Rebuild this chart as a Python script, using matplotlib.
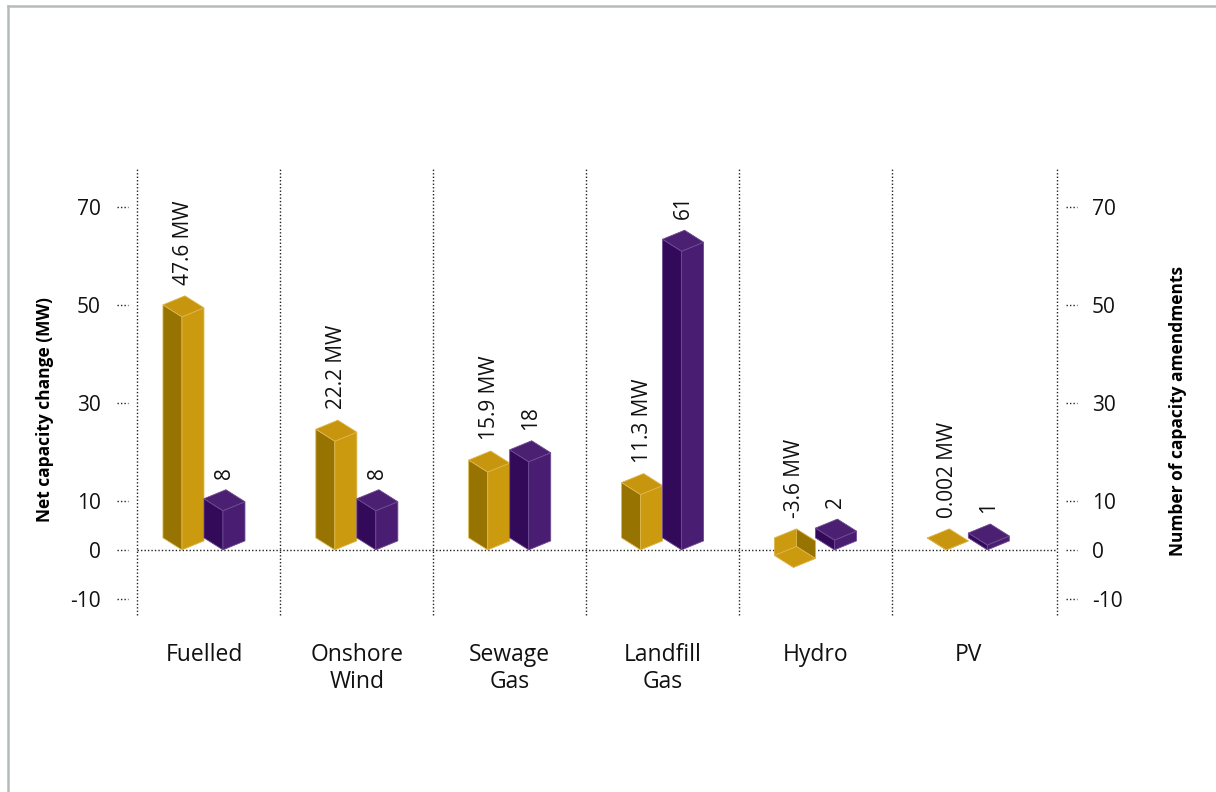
import matplotlib.pyplot as plt
from matplotlib.patches import Polygon
from matplotlib.lines import Line2D

plt.rcParams['font.family'] = ['Open Sans', 'DejaVu Sans']

categories = ["Fuelled", "Onshore\nWind", "Sewage\nGas", "Landfill\nGas", "Hydro", "PV"]
capacity_mw = [47.6, 22.2, 15.9, 11.3, -3.6, 0.002]
amendments = [8, 8, 18, 61, 2, 1]
tick_values = [-10, 0, 10, 30, 50, 70]

W, H = 1216, 792
fig = plt.figure(figsize=(W / 100, H / 100), dpi=100)

# axes box in pixels
ax_l, ax_r, ax_t, ax_b = 137, 1057, 168, 615
ax = fig.add_axes([ax_l / W, 1 - ax_b / H, (ax_r - ax_l) / W, (ax_b - ax_t) / H])
xlim = (-0.438, 5.58)
ylim = (-13.3, 78)
ax.set_xlim(*xlim)
ax.set_ylim(*ylim)
for s in ax.spines.values():
    s.set_visible(False)

# pixel -> data conversion for the fake 3d depth
px_x = (xlim[1] - xlim[0]) / (ax_r - ax_l)
px_y = (ylim[1] - ylim[0]) / (ax_b - ax_t)
L = (-19 * px_x, 12 * px_y)
R = (22 * px_x, 9 * px_y)

gold = dict(left='#977301', right='#CC9A0F', top='#C8960E', edge='#DDB54A')
purple = dict(left='#33095A', right='#491D71', top='#4B2073', edge='#6E4A92')


def add(p, q):
    return (p[0] + q[0], p[1] + q[1])


def box(axis, xf, v, c):
    kw = dict(lw=0.6, zorder=5)
    f0 = (xf, 0)
    f1 = (xf, v)
    if v >= 0:
        faces = [
            ([f0, f1, add(f1, L), add(f0, L)], c['left']),
            ([f0, f1, add(f1, R), add(f0, R)], c['right']),
            ([f1, add(f1, L), add(add(f1, L), R), add(f1, R)], c['top']),
        ]
    else:
        # negative bar: looking down into the box
        b0 = add(add(f0, L), R)
        b1 = add(add(f1, L), R)
        faces = [
            ([add(f1, L), b1, b0, add(f0, L)], c['right']),
            ([b1, add(f1, R), add(f0, R), b0], c['left']),
            ([f1, add(f1, L), b1, add(f1, R)], c['right']),
        ]
    for pts, col in faces:
        axis.add_patch(Polygon(pts, closed=True, facecolor=col, edgecolor=c['edge'], **kw))


dot = (0, (1, 1.5))
line_kw = dict(color='#222222', lw=1.0, linestyle=dot, clip_on=False, zorder=1)

# dotted frame and category dividers
for x in [xlim[0]] + [i + 0.5 for i in range(5)] + [xlim[1]]:
    ax.plot([x, x], ylim, **line_kw)
ax.plot(xlim, [0, 0], **line_kw)

# dotted tick marks on both sides
ytr = ax.get_yaxis_transform()
for t in tick_values:
    ax.plot([-20 / 920, -9 / 920], [t, t], transform=ytr, **line_kw)
    ax.plot([1 + 9 / 920, 1 + 20 / 920], [t, t], transform=ytr, **line_kw)

ax2 = ax.twinx()
ax2.set_ylim(*ylim)
for s in ax2.spines.values():
    s.set_visible(False)

for i, (mw, n) in enumerate(zip(capacity_mw, amendments)):
    xg = i - 22 * px_x
    xp = i + 19 * px_x
    box(ax, xg, mw, gold)
    box(ax2, xp, n, purple)
    ax.annotate(f"{mw:g} MW", (xg + 1.5 * px_x, max(mw, 0)), xytext=(0, 32),
                textcoords='offset pixels', rotation=90, ha='center', va='bottom',
                fontsize=15, color='#111111', zorder=6)
    ax2.annotate(f"{n}", (xp + 1.5 * px_x, max(n, 0)), xytext=(0, 32),
                 textcoords='offset pixels', rotation=90, ha='center', va='bottom',
                 fontsize=15, color='#111111', zorder=6)

ax.set_yticks(tick_values)
ax.set_yticklabels([str(t) for t in tick_values], fontsize=15, color='#111111')
ax.tick_params(axis='y', length=0, pad=26)
ax2.set_yticks(tick_values)
ax2.set_yticklabels([str(t) for t in tick_values], fontsize=15, color='#111111')
ax2.tick_params(axis='y', length=0, pad=25)

ax.set_xticks(range(len(categories)))
ax.set_xticklabels(categories, fontsize=16.5, color='#111111', linespacing=1.2)
ax.tick_params(axis='x', length=0, pad=20)

fig.text(45 / W, 1 - 410 / H, "Net capacity change (MW)", rotation=90,
         ha='center', va='center', fontsize=12.5, fontweight='bold')
fig.text(1178 / W, 1 - 411 / H, "Number of capacity amendments", rotation=90,
         ha='center', va='center', fontsize=12.5, fontweight='bold')

# grey page frame on top and left
frame = dict(color='#B5BABD', lw=1.8, transform=fig.transFigure)
fig.add_artist(Line2D([8 / W, 1], [1 - 6 / H, 1 - 6 / H], **frame))
fig.add_artist(Line2D([8 / W, 8 / W], [0, 1 - 6 / H], **frame))

fig.savefig("out.png", dpi=100, facecolor='white')
